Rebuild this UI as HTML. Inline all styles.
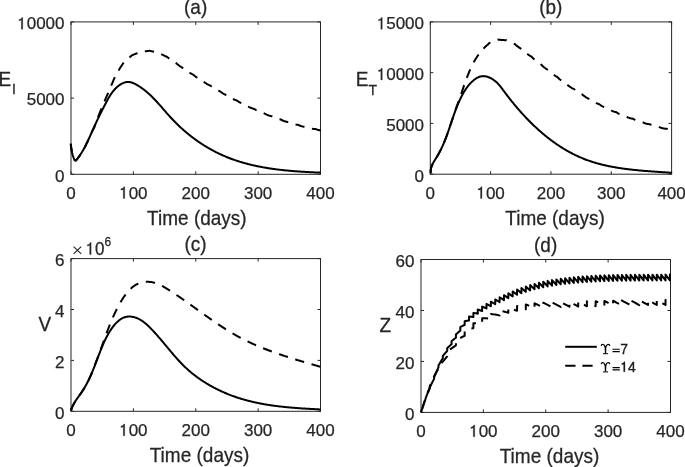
<!DOCTYPE html>
<html><head><meta charset="utf-8"><style>
html,body{margin:0;padding:0;background:#fff;}
svg{display:block;will-change:transform;}
text{font-family:"Liberation Sans",sans-serif;fill:#262626;}
.tk{font-size:17px;}
.lb{font-size:19px;}
.sb{font-size:14px;}
.sp{font-size:12px;}
.lg{font-size:14px;fill:#000;}
.ln{fill:none;stroke:#000;stroke-width:2.0;stroke-linejoin:round;}
</style></head><body>
<svg width="685" height="467" viewBox="0 0 685 467">
<rect width="685" height="467" fill="#fff"/>
<rect x="71" y="21.9" width="249.50" height="152.40" fill="none" stroke="#262626" stroke-width="1"/>
<path d="M71.00,174.3 V171.30 M71.00,21.9 V24.90" stroke="#262626" stroke-width="1"/>
<path d="M133.38,174.3 V171.30 M133.38,21.9 V24.90" stroke="#262626" stroke-width="1"/>
<path d="M195.75,174.3 V171.30 M195.75,21.9 V24.90" stroke="#262626" stroke-width="1"/>
<path d="M258.12,174.3 V171.30 M258.12,21.9 V24.90" stroke="#262626" stroke-width="1"/>
<path d="M320.50,174.3 V171.30 M320.50,21.9 V24.90" stroke="#262626" stroke-width="1"/>
<path d="M71,174.30 H74.00 M320.5,174.30 H317.50" stroke="#262626" stroke-width="1"/>
<path d="M71,98.10 H74.00 M320.5,98.10 H317.50" stroke="#262626" stroke-width="1"/>
<path d="M71,21.90 H74.00 M320.5,21.90 H317.50" stroke="#262626" stroke-width="1"/>
<rect x="430.3" y="21.9" width="241.30" height="152.30" fill="none" stroke="#262626" stroke-width="1"/>
<path d="M430.30,174.2 V171.20 M430.30,21.9 V24.90" stroke="#262626" stroke-width="1"/>
<path d="M490.62,174.2 V171.20 M490.62,21.9 V24.90" stroke="#262626" stroke-width="1"/>
<path d="M550.95,174.2 V171.20 M550.95,21.9 V24.90" stroke="#262626" stroke-width="1"/>
<path d="M611.28,174.2 V171.20 M611.28,21.9 V24.90" stroke="#262626" stroke-width="1"/>
<path d="M671.60,174.2 V171.20 M671.60,21.9 V24.90" stroke="#262626" stroke-width="1"/>
<path d="M430.3,174.20 H433.30 M671.6,174.20 H668.60" stroke="#262626" stroke-width="1"/>
<path d="M430.3,123.43 H433.30 M671.6,123.43 H668.60" stroke="#262626" stroke-width="1"/>
<path d="M430.3,72.67 H433.30 M671.6,72.67 H668.60" stroke="#262626" stroke-width="1"/>
<path d="M430.3,21.90 H433.30 M671.6,21.90 H668.60" stroke="#262626" stroke-width="1"/>
<rect x="71" y="258.6" width="249.50" height="152.70" fill="none" stroke="#262626" stroke-width="1"/>
<path d="M71.00,411.3 V408.30 M71.00,258.6 V261.60" stroke="#262626" stroke-width="1"/>
<path d="M133.38,411.3 V408.30 M133.38,258.6 V261.60" stroke="#262626" stroke-width="1"/>
<path d="M195.75,411.3 V408.30 M195.75,258.6 V261.60" stroke="#262626" stroke-width="1"/>
<path d="M258.12,411.3 V408.30 M258.12,258.6 V261.60" stroke="#262626" stroke-width="1"/>
<path d="M320.50,411.3 V408.30 M320.50,258.6 V261.60" stroke="#262626" stroke-width="1"/>
<path d="M71,411.30 H74.00 M320.5,411.30 H317.50" stroke="#262626" stroke-width="1"/>
<path d="M71,360.40 H74.00 M320.5,360.40 H317.50" stroke="#262626" stroke-width="1"/>
<path d="M71,309.50 H74.00 M320.5,309.50 H317.50" stroke="#262626" stroke-width="1"/>
<path d="M71,258.60 H74.00 M320.5,258.60 H317.50" stroke="#262626" stroke-width="1"/>
<rect x="421" y="259.5" width="249.50" height="152.90" fill="none" stroke="#262626" stroke-width="1"/>
<path d="M421.00,412.4 V409.40 M421.00,259.5 V262.50" stroke="#262626" stroke-width="1"/>
<path d="M483.38,412.4 V409.40 M483.38,259.5 V262.50" stroke="#262626" stroke-width="1"/>
<path d="M545.75,412.4 V409.40 M545.75,259.5 V262.50" stroke="#262626" stroke-width="1"/>
<path d="M608.12,412.4 V409.40 M608.12,259.5 V262.50" stroke="#262626" stroke-width="1"/>
<path d="M670.50,412.4 V409.40 M670.50,259.5 V262.50" stroke="#262626" stroke-width="1"/>
<path d="M421,412.40 H424.00 M670.5,412.40 H667.50" stroke="#262626" stroke-width="1"/>
<path d="M421,361.43 H424.00 M670.5,361.43 H667.50" stroke="#262626" stroke-width="1"/>
<path d="M421,310.47 H424.00 M670.5,310.47 H667.50" stroke="#262626" stroke-width="1"/>
<path d="M421,259.50 H424.00 M670.5,259.50 H667.50" stroke="#262626" stroke-width="1"/>
<text transform="translate(66.27,198.50) scale(1,1.0)" font-size="17" fill="#262626" stroke="#262626" stroke-width="0.25">0</text>
<path d="M490,0 L670,0 L670,1409 L545,1409 C525,1290 430,1175 205,1160 L205,1015 C345,1020 440,1050 490,1095 Z" fill="#262626" stroke="#262626" stroke-width="30.1" transform="translate(119.19,198.50) scale(0.00830,-0.00830)"/><text transform="translate(128.65,198.50) scale(1,1.0)" font-size="17" fill="#262626" stroke="#262626" stroke-width="0.25">00</text>
<text transform="translate(181.57,198.50) scale(1,1.0)" font-size="17" fill="#262626" stroke="#262626" stroke-width="0.25">200</text>
<text transform="translate(243.94,198.50) scale(1,1.0)" font-size="17" fill="#262626" stroke="#262626" stroke-width="0.25">300</text>
<text transform="translate(306.32,198.50) scale(1,1.0)" font-size="17" fill="#262626" stroke="#262626" stroke-width="0.25">400</text>
<text transform="translate(425.57,198.50) scale(1,1.0)" font-size="17" fill="#262626" stroke="#262626" stroke-width="0.25">0</text>
<path d="M490,0 L670,0 L670,1409 L545,1409 C525,1290 430,1175 205,1160 L205,1015 C345,1020 440,1050 490,1095 Z" fill="#262626" stroke="#262626" stroke-width="30.1" transform="translate(476.44,198.50) scale(0.00830,-0.00830)"/><text transform="translate(485.90,198.50) scale(1,1.0)" font-size="17" fill="#262626" stroke="#262626" stroke-width="0.25">00</text>
<text transform="translate(536.77,198.50) scale(1,1.0)" font-size="17" fill="#262626" stroke="#262626" stroke-width="0.25">200</text>
<text transform="translate(597.09,198.50) scale(1,1.0)" font-size="17" fill="#262626" stroke="#262626" stroke-width="0.25">300</text>
<text transform="translate(657.42,198.50) scale(1,1.0)" font-size="17" fill="#262626" stroke="#262626" stroke-width="0.25">400</text>
<text transform="translate(66.27,435.80) scale(1,1.0)" font-size="17" fill="#262626" stroke="#262626" stroke-width="0.25">0</text>
<path d="M490,0 L670,0 L670,1409 L545,1409 C525,1290 430,1175 205,1160 L205,1015 C345,1020 440,1050 490,1095 Z" fill="#262626" stroke="#262626" stroke-width="30.1" transform="translate(119.19,435.80) scale(0.00830,-0.00830)"/><text transform="translate(128.65,435.80) scale(1,1.0)" font-size="17" fill="#262626" stroke="#262626" stroke-width="0.25">00</text>
<text transform="translate(181.57,435.80) scale(1,1.0)" font-size="17" fill="#262626" stroke="#262626" stroke-width="0.25">200</text>
<text transform="translate(243.94,435.80) scale(1,1.0)" font-size="17" fill="#262626" stroke="#262626" stroke-width="0.25">300</text>
<text transform="translate(306.32,435.80) scale(1,1.0)" font-size="17" fill="#262626" stroke="#262626" stroke-width="0.25">400</text>
<text transform="translate(416.27,436.80) scale(1,1.0)" font-size="17" fill="#262626" stroke="#262626" stroke-width="0.25">0</text>
<path d="M490,0 L670,0 L670,1409 L545,1409 C525,1290 430,1175 205,1160 L205,1015 C345,1020 440,1050 490,1095 Z" fill="#262626" stroke="#262626" stroke-width="30.1" transform="translate(469.19,436.80) scale(0.00830,-0.00830)"/><text transform="translate(478.65,436.80) scale(1,1.0)" font-size="17" fill="#262626" stroke="#262626" stroke-width="0.25">00</text>
<text transform="translate(531.57,436.80) scale(1,1.0)" font-size="17" fill="#262626" stroke="#262626" stroke-width="0.25">200</text>
<text transform="translate(593.94,436.80) scale(1,1.0)" font-size="17" fill="#262626" stroke="#262626" stroke-width="0.25">300</text>
<text transform="translate(656.32,436.80) scale(1,1.0)" font-size="17" fill="#262626" stroke="#262626" stroke-width="0.25">400</text>
<text transform="translate(55.05,181.61) scale(1,1.0)" font-size="17" fill="#262626" stroke="#262626" stroke-width="0.25">0</text>
<text transform="translate(26.68,105.41) scale(1,1.0)" font-size="17" fill="#262626" stroke="#262626" stroke-width="0.25">5000</text>
<path d="M490,0 L670,0 L670,1409 L545,1409 C525,1290 430,1175 205,1160 L205,1015 C345,1020 440,1050 490,1095 Z" fill="#262626" stroke="#262626" stroke-width="30.1" transform="translate(17.23,29.21) scale(0.00830,-0.00830)"/><text transform="translate(26.68,29.21) scale(1,1.0)" font-size="17" fill="#262626" stroke="#262626" stroke-width="0.25">0000</text>
<text transform="translate(414.55,181.51) scale(1,1.0)" font-size="17" fill="#262626" stroke="#262626" stroke-width="0.25">0</text>
<text transform="translate(386.18,130.74) scale(1,1.0)" font-size="17" fill="#262626" stroke="#262626" stroke-width="0.25">5000</text>
<path d="M490,0 L670,0 L670,1409 L545,1409 C525,1290 430,1175 205,1160 L205,1015 C345,1020 440,1050 490,1095 Z" fill="#262626" stroke="#262626" stroke-width="30.1" transform="translate(376.73,79.98) scale(0.00830,-0.00830)"/><text transform="translate(386.18,79.98) scale(1,1.0)" font-size="17" fill="#262626" stroke="#262626" stroke-width="0.25">0000</text>
<path d="M490,0 L670,0 L670,1409 L545,1409 C525,1290 430,1175 205,1160 L205,1015 C345,1020 440,1050 490,1095 Z" fill="#262626" stroke="#262626" stroke-width="30.1" transform="translate(376.73,29.21) scale(0.00830,-0.00830)"/><text transform="translate(386.18,29.21) scale(1,1.0)" font-size="17" fill="#262626" stroke="#262626" stroke-width="0.25">5000</text>
<text transform="translate(55.05,418.61) scale(1,1.0)" font-size="17" fill="#262626" stroke="#262626" stroke-width="0.25">0</text>
<text transform="translate(55.05,367.71) scale(1,1.0)" font-size="17" fill="#262626" stroke="#262626" stroke-width="0.25">2</text>
<text transform="translate(55.05,316.81) scale(1,1.0)" font-size="17" fill="#262626" stroke="#262626" stroke-width="0.25">4</text>
<text transform="translate(55.05,265.91) scale(1,1.0)" font-size="17" fill="#262626" stroke="#262626" stroke-width="0.25">6</text>
<text transform="translate(405.05,419.71) scale(1,1.0)" font-size="17" fill="#262626" stroke="#262626" stroke-width="0.25">0</text>
<text transform="translate(395.59,368.74) scale(1,1.0)" font-size="17" fill="#262626" stroke="#262626" stroke-width="0.25">20</text>
<text transform="translate(395.59,317.78) scale(1,1.0)" font-size="17" fill="#262626" stroke="#262626" stroke-width="0.25">40</text>
<text transform="translate(395.59,266.81) scale(1,1.0)" font-size="17" fill="#262626" stroke="#262626" stroke-width="0.25">60</text>
<path d="M70.80,143.80 L70.84,144.45 L70.90,145.12 L70.98,145.81 L71.06,146.52 L71.16,147.24 L71.26,147.97 L71.37,148.69 L71.49,149.41 L71.62,150.12 L71.75,150.82 L71.87,151.49 L72.01,152.14 L72.14,152.78 L72.29,153.41 L72.44,154.05 L72.61,154.69 L72.80,155.35 L73.00,156.03 L73.23,156.75 L73.49,157.51 L73.78,158.30 L74.12,159.08 L74.53,159.77 L75.04,160.31 L75.58,160.55 L76.07,160.34 L76.51,159.85 L76.94,159.33 L77.36,158.80 L77.78,158.26 L78.19,157.72 L78.59,157.17 L78.99,156.62 L79.39,156.06 L79.78,155.49 L80.16,154.92 L80.54,154.35 L80.92,153.77 L81.29,153.19 L81.65,152.60 L82.02,152.01 L82.37,151.42 L82.72,150.82 L83.07,150.22 L83.42,149.61 L83.76,149.00 L84.09,148.39 L84.43,147.77 L84.76,147.16 L85.08,146.53 L85.41,145.91 L85.73,145.28 L86.04,144.65 L86.36,144.02 L86.67,143.39 L86.98,142.75 L87.29,142.11 L87.59,141.47 L87.89,140.83 L88.19,140.19 L88.49,139.55 L88.79,138.90 L89.08,138.26 L89.38,137.61 L89.67,136.97 L89.96,136.32 L90.25,135.67 L90.54,135.02 L90.83,134.37 L91.11,133.73 L91.40,133.08 L91.69,132.43 L91.97,131.78 L92.26,131.14 L92.54,130.49 L92.83,129.85 L93.12,129.20 L93.40,128.56 L93.69,127.92 L93.98,127.28 L94.26,126.65 L94.55,126.01 L94.84,125.38 L95.13,124.74 L95.42,124.11 L95.71,123.48 L96.01,122.85 L96.30,122.23 L96.59,121.60 L96.89,120.97 L97.18,120.35 L97.48,119.73 L97.78,119.11 L98.07,118.48 L98.37,117.86 L98.67,117.24 L98.97,116.63 L99.28,116.01 L99.58,115.39 L99.88,114.77 L100.19,114.16 L100.49,113.54 L100.80,112.92 L101.11,112.31 L101.42,111.69 L101.73,111.08 L102.04,110.46 L102.35,109.85 L102.66,109.23 L102.97,108.62 L103.29,108.00 L103.61,107.38 L103.92,106.77 L104.24,106.15 L104.56,105.53 L104.88,104.92 L105.20,104.30 L105.52,103.68 L105.85,103.06 L106.17,102.44 L106.50,101.82 L106.83,101.20 L107.16,100.58 L107.50,99.97 L107.84,99.35 L108.18,98.74 L108.53,98.12 L108.88,97.51 L109.24,96.91 L109.60,96.31 L109.97,95.71 L110.34,95.12 L110.73,94.53 L111.12,93.94 L111.52,93.37 L111.92,92.79 L112.34,92.23 L112.76,91.67 L113.20,91.12 L113.64,90.58 L114.10,90.04 L114.56,89.52 L115.04,89.00 L115.53,88.50 L116.03,88.00 L116.54,87.51 L117.07,87.04 L117.61,86.57 L118.16,86.12 L118.73,85.68 L119.32,85.25 L119.91,84.84 L120.52,84.44 L121.14,84.07 L121.77,83.72 L122.41,83.39 L123.05,83.09 L123.70,82.82 L124.36,82.58 L125.02,82.38 L125.69,82.22 L126.36,82.09 L127.03,82.00 L127.70,81.96 L128.36,81.96 L129.03,82.01 L129.70,82.09 L130.36,82.21 L131.02,82.37 L131.68,82.56 L132.34,82.77 L132.99,83.02 L133.64,83.29 L134.28,83.58 L134.92,83.89 L135.56,84.22 L136.19,84.56 L136.82,84.91 L137.44,85.27 L138.05,85.64 L138.66,86.01 L139.26,86.39 L139.85,86.78 L140.44,87.17 L141.03,87.56 L141.61,87.97 L142.18,88.37 L142.75,88.79 L143.31,89.21 L143.87,89.63 L144.42,90.06 L144.97,90.49 L145.51,90.93 L146.05,91.37 L146.59,91.82 L147.12,92.27 L147.65,92.73 L148.17,93.18 L148.69,93.65 L149.20,94.12 L149.71,94.59 L150.22,95.06 L150.73,95.54 L151.23,96.02 L151.72,96.51 L152.22,97.00 L152.71,97.49 L153.20,97.98 L153.69,98.48 L154.17,98.98 L154.65,99.48 L155.13,99.98 L155.61,100.49 L156.08,101.00 L156.56,101.51 L157.03,102.03 L157.50,102.54 L157.97,103.06 L158.43,103.58 L158.90,104.10 L159.36,104.62 L159.83,105.14 L160.29,105.66 L160.75,106.19 L161.21,106.71 L161.67,107.24 L162.13,107.77 L162.59,108.29 L163.05,108.82 L163.50,109.35 L163.96,109.88 L164.42,110.41 L164.88,110.93 L165.34,111.46 L165.80,111.99 L166.26,112.52 L166.72,113.05 L167.18,113.57 L167.65,114.10 L168.11,114.62 L168.58,115.14 L169.04,115.67 L169.51,116.19 L169.98,116.71 L170.45,117.23 L170.93,117.74 L171.40,118.26 L171.88,118.77 L172.36,119.28 L172.84,119.79 L173.33,120.30 L173.81,120.80 L174.30,121.31 L174.79,121.81 L175.28,122.31 L175.78,122.80 L176.28,123.30 L176.78,123.79 L177.28,124.28 L177.78,124.77 L178.29,125.26 L178.79,125.74 L179.30,126.22 L179.81,126.70 L180.33,127.18 L180.84,127.66 L181.36,128.13 L181.88,128.60 L182.40,129.07 L182.93,129.53 L183.45,130.00 L183.98,130.46 L184.51,130.92 L185.04,131.38 L185.58,131.83 L186.11,132.29 L186.65,132.74 L187.19,133.19 L187.73,133.63 L188.27,134.07 L188.82,134.52 L189.37,134.95 L189.91,135.39 L190.46,135.82 L191.02,136.26 L191.57,136.68 L192.13,137.11 L192.69,137.54 L193.25,137.96 L193.81,138.38 L194.37,138.79 L194.94,139.21 L195.50,139.62 L196.07,140.03 L196.64,140.43 L197.21,140.84 L197.79,141.24 L198.36,141.64 L198.94,142.03 L199.52,142.43 L200.10,142.82 L200.68,143.21 L201.27,143.59 L201.85,143.97 L202.44,144.35 L203.03,144.73 L203.62,145.11 L204.21,145.48 L204.80,145.85 L205.40,146.21 L206.00,146.58 L206.59,146.94 L207.19,147.30 L207.80,147.65 L208.40,148.01 L209.00,148.36 L209.61,148.70 L210.22,149.05 L210.83,149.39 L211.44,149.73 L212.05,150.06 L212.66,150.40 L213.28,150.73 L213.89,151.05 L214.51,151.38 L215.13,151.70 L215.75,152.02 L216.37,152.33 L217.00,152.64 L217.62,152.95 L218.25,153.26 L218.88,153.56 L219.50,153.86 L220.13,154.16 L220.77,154.45 L221.40,154.74 L222.03,155.03 L222.67,155.32 L223.31,155.60 L223.94,155.88 L224.58,156.15 L225.22,156.42 L225.87,156.69 L226.51,156.96 L227.15,157.22 L227.80,157.48 L228.44,157.74 L229.09,157.99 L229.74,158.24 L230.39,158.49 L231.04,158.74 L231.70,158.98 L232.35,159.22 L233.00,159.45 L233.66,159.68 L234.32,159.91 L234.97,160.14 L235.63,160.37 L236.29,160.59 L236.95,160.81 L237.62,161.02 L238.28,161.23 L238.94,161.44 L239.61,161.65 L240.27,161.86 L240.94,162.06 L241.61,162.26 L242.28,162.46 L242.95,162.65 L243.62,162.84 L244.29,163.03 L244.96,163.22 L245.63,163.40 L246.31,163.58 L246.98,163.76 L247.66,163.94 L248.33,164.11 L249.01,164.28 L249.69,164.45 L250.37,164.62 L251.05,164.78 L251.73,164.95 L252.41,165.11 L253.09,165.26 L253.77,165.42 L254.45,165.57 L255.14,165.72 L255.82,165.87 L256.50,166.01 L257.19,166.16 L257.88,166.30 L258.56,166.44 L259.25,166.58 L259.94,166.71 L260.62,166.84 L261.31,166.98 L262.00,167.10 L262.69,167.23 L263.38,167.36 L264.07,167.48 L264.76,167.60 L265.46,167.72 L266.15,167.84 L266.84,167.95 L267.53,168.06 L268.23,168.17 L268.92,168.28 L269.62,168.39 L270.31,168.50 L271.00,168.60 L271.70,168.70 L272.40,168.80 L273.09,168.90 L273.79,169.00 L274.48,169.09 L275.18,169.19 L275.88,169.28 L276.57,169.37 L277.27,169.46 L277.97,169.55 L278.67,169.63 L279.37,169.72 L280.06,169.80 L280.76,169.88 L281.46,169.96 L282.16,170.04 L282.86,170.11 L283.56,170.19 L284.26,170.26 L284.96,170.33 L285.65,170.40 L286.35,170.47 L287.05,170.54 L287.75,170.61 L288.45,170.67 L289.15,170.74 L289.85,170.80 L290.55,170.86 L291.25,170.92 L291.95,170.98 L292.65,171.04 L293.35,171.10 L294.05,171.16 L294.74,171.21 L295.44,171.26 L296.14,171.32 L296.84,171.37 L297.54,171.42 L298.24,171.47 L298.93,171.52 L299.63,171.56 L300.33,171.61 L301.03,171.66 L301.72,171.70 L302.42,171.75 L303.12,171.79 L303.81,171.83 L304.51,171.87 L305.21,171.91 L305.90,171.95 L306.60,171.99 L307.29,172.03 L307.99,172.07 L308.68,172.11 L309.37,172.14 L310.07,172.18 L310.76,172.21 L311.45,172.25 L312.14,172.28 L312.83,172.31 L313.53,172.35 L314.22,172.38 L314.91,172.41 L315.60,172.44 L316.29,172.47 L316.97,172.50 L317.66,172.53 L318.35,172.56 L319.04,172.59 L319.72,172.62 L320.41,172.65" class="ln"/>
<path d="M70.80,143.80 L70.84,144.45 L70.90,145.12 L70.98,145.81 L71.06,146.52 L71.16,147.24 L71.26,147.97 L71.37,148.69 L71.49,149.41 L71.62,150.12 L71.75,150.82 L71.87,151.49 L72.01,152.14 L72.14,152.78 L72.29,153.41 L72.44,154.05 L72.61,154.69 L72.80,155.35 L73.00,156.03 L73.23,156.75 L73.49,157.51 L73.78,158.30 L74.12,159.08 L74.53,159.77 L75.04,160.31 L75.58,160.55 L76.07,160.34 L76.51,159.85 L76.94,159.33 L77.36,158.80 L77.78,158.26 L78.19,157.72 L78.59,157.17 L78.99,156.62 L79.39,156.06 L79.78,155.49 L80.16,154.92 L80.54,154.35 L80.92,153.77 L81.29,153.19 L81.65,152.60 L82.02,152.01 L82.37,151.42 L82.72,150.82 L83.07,150.22 L83.42,149.61 L83.76,149.00 L84.09,148.39 L84.43,147.77 L84.76,147.16 L85.08,146.53 L85.41,145.91 L85.73,145.28 L86.04,144.65 L86.36,144.02 L86.67,143.39 L86.98,142.75 L87.29,142.11 L87.59,141.47 L87.89,140.83 L88.19,140.19 L88.49,139.55 L88.79,138.90 L89.08,138.26 L89.38,137.61 L89.67,136.97 L89.96,136.32 L90.25,135.67 L90.54,135.02 L90.83,134.37 L91.11,133.73 L91.40,133.08 L91.69,132.43 L91.97,131.78 L92.26,131.14 L92.54,130.49 L92.83,129.85 L94.22,127.68 L94.72,126.17 L95.22,124.70 L95.72,123.27 L96.22,121.87 L96.72,120.50 L97.20,119.22 L97.22,119.16 L97.72,117.84 L98.22,116.55 L98.72,115.28 L99.22,114.02 L99.72,112.78 L100.22,111.56 L100.72,110.36 L101.22,109.17 L101.72,107.99 L102.22,106.81 L102.72,105.64 L103.22,104.47 L103.72,103.29 L104.22,102.10 L104.72,100.91 L105.22,99.70 L105.72,98.48 L105.93,97.96 L106.22,97.31 L106.72,96.19 L107.22,95.06 L107.72,93.92 L108.22,92.78 L108.72,91.62 L109.22,90.45 L109.72,89.27 L110.22,88.08 L110.72,86.88 L111.22,85.67 L111.72,84.47 L112.22,83.26 L112.72,82.07 L113.22,80.87 L113.72,79.69 L114.22,78.52 L114.66,77.49 L114.72,77.38 L115.22,76.44 L115.72,75.51 L116.22,74.59 L116.72,73.69 L117.22,72.81 L117.72,71.93 L118.22,71.08 L118.72,70.23 L119.22,69.40 L119.72,68.59 L120.22,67.79 L120.72,67.00 L121.22,66.23 L121.72,65.47 L122.22,64.72 L122.72,63.98 L123.22,63.26 L123.39,63.01 L123.72,62.68 L124.22,62.18 L124.72,61.69 L125.22,61.21 L125.72,60.73 L126.22,60.27 L126.72,59.81 L127.22,59.36 L127.72,58.91 L128.22,58.48 L128.72,58.04 L129.22,57.62 L129.72,57.19 L130.22,56.77 L130.72,56.36 L131.22,55.94 L131.72,55.53 L132.13,55.20 L132.22,55.17 L132.72,54.97 L133.22,54.77 L133.72,54.57 L134.22,54.37 L134.72,54.17 L135.22,53.97 L135.72,53.76 L136.22,53.56 L136.72,53.36 L137.22,53.15 L137.72,52.94 L138.22,52.73 L138.72,52.52 L139.22,52.31 L139.72,52.09 L140.22,51.87 L140.72,51.64 L140.86,51.58 L141.22,51.57 L141.72,51.54 L142.22,51.52 L142.72,51.49 L143.22,51.45 L143.72,51.42 L144.22,51.38 L144.72,51.34 L145.22,51.29 L145.72,51.24 L146.22,51.18 L146.72,51.13 L147.22,51.07 L147.72,51.00 L148.22,50.94 L148.72,50.87 L149.22,50.79 L149.59,50.73 L149.72,50.77 L150.22,50.89 L150.72,51.01 L151.22,51.13 L151.72,51.25 L152.22,51.36 L152.72,51.47 L153.22,51.58 L153.72,51.68 L154.22,51.79 L154.72,51.89 L155.22,51.99 L155.72,52.08 L156.22,52.18 L156.72,52.27 L157.22,52.35 L157.72,52.44 L158.22,52.52 L158.32,52.53 L158.72,52.76 L159.22,53.04 L159.72,53.32 L160.22,53.59 L160.72,53.86 L161.22,54.13 L161.72,54.39 L162.22,54.65 L162.72,54.90 L163.22,55.15 L163.72,55.39 L164.22,55.63 L164.72,55.86 L165.22,56.09 L165.72,56.32 L166.22,56.53 L166.72,56.74 L167.06,56.88 L167.22,57.02 L167.72,57.42 L168.22,57.82 L168.72,58.21 L169.22,58.59 L169.72,58.97 L170.22,59.34 L170.72,59.70 L171.22,60.05 L171.72,60.39 L172.22,60.73 L172.72,61.05 L173.22,61.36 L173.72,61.67 L174.22,61.96 L174.72,62.24 L175.22,62.51 L175.72,62.77 L175.79,62.80 L176.22,63.19 L176.72,63.63 L177.22,64.05 L177.72,64.47 L178.22,64.87 L178.72,65.26 L179.22,65.63 L179.72,66.00 L180.22,66.35 L180.72,66.69 L181.22,67.02 L181.72,67.33 L182.22,67.63 L182.72,67.92 L183.22,68.20 L183.72,68.46 L184.22,68.72 L184.52,68.86 L184.72,69.04 L185.22,69.47 L185.72,69.89 L186.22,70.30 L186.72,70.70 L187.22,71.08 L187.72,71.45 L188.22,71.81 L188.72,72.16 L189.22,72.49 L189.72,72.81 L190.22,73.12 L190.72,73.42 L191.22,73.70 L191.72,73.97 L192.22,74.23 L192.72,74.48 L193.22,74.71 L193.25,74.73 L193.72,75.13 L194.22,75.54 L194.72,75.94 L195.22,76.33 L195.72,76.71 L196.22,77.08 L196.72,77.43 L197.22,77.77 L197.72,78.10 L198.22,78.41 L198.72,78.71 L199.22,79.00 L199.72,79.28 L200.22,79.55 L200.72,79.80 L201.22,80.04 L201.72,80.27 L201.99,80.38 L202.22,80.58 L202.72,80.99 L203.22,81.38 L203.72,81.76 L204.22,82.13 L204.72,82.49 L205.22,82.84 L205.72,83.17 L206.22,83.49 L206.72,83.80 L207.22,84.09 L207.72,84.38 L208.22,84.64 L208.72,84.90 L209.22,85.15 L209.72,85.38 L210.22,85.60 L210.72,85.80 L210.72,85.81 L211.22,86.21 L211.72,86.59 L212.22,86.97 L212.72,87.33 L213.22,87.68 L213.72,88.02 L214.22,88.34 L214.72,88.65 L215.22,88.95 L215.72,89.24 L216.22,89.51 L216.72,89.78 L217.22,90.02 L217.72,90.26 L218.22,90.48 L218.72,90.70 L219.22,90.89 L219.45,90.98 L219.72,91.19 L220.22,91.57 L220.72,91.94 L221.22,92.29 L221.72,92.63 L222.22,92.96 L222.72,93.27 L223.22,93.58 L223.72,93.87 L224.22,94.15 L224.72,94.41 L225.22,94.66 L225.72,94.90 L226.22,95.13 L226.72,95.34 L227.22,95.55 L227.72,95.73 L228.19,95.90 L228.22,95.93 L228.72,96.29 L229.22,96.65 L229.72,97.00 L230.22,97.33 L230.72,97.65 L231.22,97.95 L231.72,98.25 L232.22,98.53 L232.72,98.80 L233.22,99.05 L233.72,99.29 L234.22,99.52 L234.72,99.74 L235.22,99.94 L235.72,100.14 L236.22,100.32 L236.72,100.48 L236.92,100.54 L237.22,100.76 L237.72,101.11 L238.22,101.44 L238.72,101.76 L239.22,102.07 L239.72,102.37 L240.22,102.65 L240.72,102.92 L241.22,103.18 L241.72,103.43 L242.22,103.66 L242.72,103.88 L243.22,104.09 L243.72,104.28 L244.22,104.46 L244.72,104.63 L245.22,104.79 L245.65,104.91 L245.72,104.96 L246.22,105.29 L246.72,105.62 L247.22,105.93 L247.72,106.23 L248.22,106.51 L248.72,106.79 L249.22,107.05 L249.72,107.29 L250.22,107.53 L250.72,107.75 L251.22,107.96 L251.72,108.16 L252.22,108.34 L252.72,108.51 L253.22,108.67 L253.72,108.81 L254.22,108.94 L254.38,108.98 L254.72,109.20 L255.22,109.52 L255.72,109.82 L256.22,110.10 L256.72,110.38 L257.22,110.64 L257.72,110.89 L258.22,111.13 L258.72,111.35 L259.22,111.56 L259.72,111.76 L260.22,111.94 L260.72,112.12 L261.22,112.28 L261.72,112.42 L262.22,112.56 L262.72,112.68 L263.12,112.76 L263.22,112.83 L263.72,113.13 L264.22,113.42 L264.72,113.70 L265.22,113.96 L265.72,114.21 L266.22,114.45 L266.72,114.67 L267.22,114.89 L267.72,115.09 L268.22,115.27 L268.72,115.45 L269.22,115.61 L269.72,115.76 L270.22,115.89 L270.72,116.01 L271.22,116.12 L271.72,116.22 L271.85,116.24 L272.22,116.46 L272.72,116.74 L273.22,117.00 L273.72,117.25 L274.22,117.49 L274.72,117.72 L275.22,117.93 L275.72,118.13 L276.22,118.32 L276.72,118.50 L277.22,118.66 L277.72,118.81 L278.22,118.94 L278.72,119.07 L279.22,119.18 L279.72,119.28 L280.22,119.36 L280.58,119.42 L280.72,119.49 L281.22,119.76 L281.72,120.01 L282.22,120.25 L282.72,120.48 L283.22,120.70 L283.72,120.90 L284.22,121.09 L284.72,121.26 L285.22,121.43 L285.72,121.58 L286.22,121.72 L286.72,121.84 L287.22,121.95 L287.72,122.05 L288.22,122.14 L288.72,122.21 L289.22,122.27 L289.31,122.28 L289.72,122.49 L290.22,122.73 L290.72,122.96 L291.22,123.18 L291.72,123.38 L292.22,123.57 L292.72,123.75 L293.22,123.91 L293.72,124.06 L294.22,124.20 L294.72,124.33 L295.22,124.44 L295.72,124.54 L296.22,124.63 L296.72,124.70 L297.22,124.77 L297.72,124.82 L298.05,124.84 L298.22,124.92 L298.72,125.15 L299.22,125.37 L299.72,125.58 L300.22,125.77 L300.72,125.95 L301.22,126.11 L301.72,126.26 L302.22,126.40 L302.72,126.53 L303.22,126.64 L303.72,126.75 L304.22,126.84 L304.72,126.91 L305.22,126.97 L305.72,127.02 L306.22,127.06 L306.72,127.09 L306.78,127.09 L307.22,127.28 L307.72,127.49 L308.22,127.68 L308.72,127.86 L309.22,128.03 L309.72,128.18 L310.22,128.32 L310.72,128.45 L311.22,128.56 L311.72,128.67 L312.22,128.76 L312.72,128.83 L313.22,128.90 L313.72,128.95 L314.22,128.99 L314.72,129.01 L315.22,129.03 L315.51,129.03 L315.72,129.11 L316.22,129.31 L316.72,129.49 L317.22,129.66 L317.72,129.81 L318.22,129.95 L318.72,130.08 L319.22,130.20 L319.72,130.30 L320.22,130.40 L320.72,130.47 L320.81,130.49" class="ln" stroke-dasharray="9.3 7.7" stroke-dashoffset="0.8"/>
<path d="M430.83,173.32 L430.75,172.55 L430.70,171.79 L430.70,171.05 L430.73,170.33 L430.80,169.62 L430.90,168.93 L431.04,168.24 L431.21,167.57 L431.40,166.91 L431.62,166.27 L431.86,165.63 L432.13,165.00 L432.41,164.38 L432.72,163.76 L433.04,163.15 L433.37,162.55 L433.71,161.95 L434.07,161.35 L434.43,160.75 L434.79,160.16 L435.16,159.57 L435.54,158.98 L435.91,158.39 L436.28,157.79 L436.64,157.19 L437.00,156.59 L437.36,155.99 L437.71,155.39 L438.06,154.78 L438.40,154.17 L438.74,153.56 L439.08,152.95 L439.41,152.33 L439.74,151.71 L440.06,151.09 L440.38,150.47 L440.69,149.85 L441.01,149.22 L441.31,148.60 L441.62,147.97 L441.92,147.34 L442.21,146.71 L442.50,146.07 L442.79,145.44 L443.07,144.80 L443.35,144.17 L443.63,143.53 L443.90,142.89 L444.17,142.25 L444.43,141.61 L444.70,140.96 L444.96,140.32 L445.21,139.68 L445.47,139.03 L445.72,138.38 L445.97,137.73 L446.21,137.08 L446.45,136.43 L446.70,135.78 L446.93,135.13 L447.17,134.48 L447.41,133.82 L447.64,133.17 L447.87,132.52 L448.10,131.86 L448.33,131.20 L448.56,130.55 L448.78,129.89 L449.01,129.23 L449.23,128.57 L449.46,127.92 L449.68,127.26 L449.90,126.60 L450.12,125.94 L450.34,125.28 L450.56,124.62 L450.78,123.96 L451.01,123.30 L451.23,122.64 L451.45,121.98 L451.67,121.31 L451.89,120.65 L452.11,119.99 L452.34,119.33 L452.56,118.67 L452.78,118.01 L453.01,117.35 L453.24,116.69 L453.47,116.03 L453.70,115.37 L453.93,114.71 L454.16,114.05 L454.39,113.39 L454.63,112.73 L454.87,112.07 L455.11,111.42 L455.35,110.76 L455.60,110.10 L455.84,109.45 L456.09,108.79 L456.35,108.13 L456.60,107.48 L456.86,106.83 L457.12,106.17 L457.39,105.52 L457.65,104.87 L457.93,104.22 L458.20,103.57 L458.48,102.92 L458.76,102.28 L459.05,101.63 L459.34,100.98 L459.63,100.34 L459.93,99.70 L460.23,99.05 L460.54,98.41 L460.85,97.77 L461.17,97.14 L461.49,96.50 L461.81,95.87 L462.15,95.23 L462.48,94.60 L462.82,93.98 L463.17,93.36 L463.53,92.74 L463.89,92.12 L464.25,91.51 L464.62,90.91 L465.00,90.31 L465.39,89.71 L465.78,89.12 L466.18,88.54 L466.59,87.96 L467.00,87.39 L467.42,86.82 L467.85,86.26 L468.29,85.71 L468.73,85.17 L469.18,84.64 L469.64,84.11 L470.11,83.59 L470.59,83.08 L471.08,82.59 L471.57,82.10 L472.08,81.62 L472.59,81.15 L473.11,80.69 L473.65,80.24 L474.19,79.81 L474.74,79.39 L475.30,78.98 L475.87,78.60 L476.44,78.24 L477.03,77.90 L477.62,77.58 L478.23,77.29 L478.84,77.02 L479.45,76.79 L480.08,76.59 L480.71,76.42 L481.35,76.29 L481.99,76.19 L482.65,76.14 L483.31,76.12 L483.97,76.14 L484.64,76.20 L485.31,76.29 L485.98,76.42 L486.66,76.58 L487.33,76.77 L488.00,76.99 L488.67,77.24 L489.33,77.51 L489.99,77.81 L490.65,78.13 L491.29,78.48 L491.93,78.84 L492.56,79.23 L493.17,79.63 L493.78,80.05 L494.37,80.48 L494.95,80.93 L495.51,81.39 L496.05,81.86 L496.58,82.34 L497.10,82.83 L497.60,83.32 L498.08,83.83 L498.56,84.34 L499.02,84.86 L499.48,85.38 L499.92,85.91 L500.36,86.45 L500.79,86.99 L501.21,87.53 L501.63,88.08 L502.05,88.63 L502.46,89.18 L502.87,89.74 L503.28,90.29 L503.69,90.85 L504.10,91.40 L504.51,91.95 L504.92,92.51 L505.34,93.06 L505.75,93.62 L506.17,94.17 L506.59,94.72 L507.01,95.27 L507.43,95.82 L507.86,96.38 L508.28,96.93 L508.71,97.47 L509.14,98.02 L509.57,98.57 L510.00,99.12 L510.43,99.67 L510.86,100.21 L511.30,100.76 L511.74,101.30 L512.17,101.85 L512.61,102.39 L513.06,102.93 L513.50,103.47 L513.94,104.01 L514.39,104.55 L514.84,105.09 L515.29,105.63 L515.74,106.17 L516.19,106.70 L516.64,107.24 L517.10,107.77 L517.55,108.31 L518.01,108.84 L518.47,109.37 L518.93,109.90 L519.39,110.43 L519.86,110.95 L520.32,111.48 L520.79,112.01 L521.26,112.53 L521.73,113.05 L522.20,113.57 L522.67,114.09 L523.15,114.61 L523.63,115.13 L524.10,115.65 L524.58,116.16 L525.06,116.68 L525.55,117.19 L526.03,117.70 L526.52,118.21 L527.00,118.72 L527.49,119.23 L527.98,119.73 L528.47,120.23 L528.96,120.74 L529.46,121.24 L529.96,121.74 L530.45,122.23 L530.95,122.73 L531.45,123.22 L531.95,123.72 L532.46,124.21 L532.96,124.70 L533.47,125.18 L533.98,125.67 L534.49,126.15 L535.00,126.64 L535.51,127.12 L536.03,127.60 L536.54,128.07 L537.06,128.55 L537.58,129.02 L538.10,129.49 L538.62,129.96 L539.15,130.43 L539.67,130.89 L540.20,131.36 L540.73,131.82 L541.26,132.28 L541.79,132.74 L542.32,133.19 L542.85,133.64 L543.39,134.10 L543.93,134.54 L544.47,134.99 L545.01,135.44 L545.55,135.88 L546.09,136.32 L546.64,136.76 L547.19,137.19 L547.73,137.63 L548.28,138.06 L548.84,138.49 L549.39,138.91 L549.94,139.34 L550.50,139.76 L551.06,140.18 L551.62,140.60 L552.18,141.01 L552.74,141.42 L553.30,141.83 L553.87,142.24 L554.44,142.64 L555.00,143.05 L555.57,143.45 L556.15,143.84 L556.72,144.24 L557.29,144.63 L557.87,145.02 L558.45,145.40 L559.03,145.79 L559.61,146.17 L560.19,146.55 L560.78,146.92 L561.36,147.30 L561.95,147.67 L562.54,148.03 L563.13,148.40 L563.72,148.76 L564.31,149.12 L564.91,149.47 L565.51,149.83 L566.10,150.18 L566.70,150.52 L567.30,150.87 L567.91,151.21 L568.51,151.55 L569.12,151.88 L569.73,152.21 L570.34,152.54 L570.95,152.87 L571.56,153.19 L572.17,153.51 L572.79,153.83 L573.41,154.14 L574.02,154.45 L574.65,154.76 L575.27,155.06 L575.89,155.36 L576.52,155.66 L577.14,155.95 L577.77,156.24 L578.40,156.53 L579.03,156.81 L579.67,157.09 L580.30,157.37 L580.94,157.64 L581.57,157.91 L582.21,158.18 L582.85,158.44 L583.50,158.70 L584.14,158.96 L584.79,159.21 L585.43,159.46 L586.08,159.70 L586.73,159.95 L587.39,160.18 L588.04,160.42 L588.69,160.65 L589.35,160.88 L590.01,161.10 L590.67,161.32 L591.33,161.54 L591.99,161.76 L592.65,161.97 L593.32,162.17 L593.98,162.38 L594.65,162.58 L595.32,162.78 L595.99,162.98 L596.66,163.17 L597.33,163.36 L598.01,163.54 L598.68,163.73 L599.36,163.91 L600.03,164.09 L600.71,164.26 L601.39,164.43 L602.07,164.60 L602.75,164.77 L603.43,164.93 L604.12,165.09 L604.80,165.25 L605.48,165.41 L606.17,165.56 L606.86,165.71 L607.54,165.86 L608.23,166.01 L608.92,166.15 L609.61,166.29 L610.30,166.43 L610.99,166.56 L611.68,166.70 L612.38,166.83 L613.07,166.96 L613.76,167.08 L614.46,167.21 L615.15,167.33 L615.85,167.45 L616.55,167.57 L617.24,167.68 L617.94,167.80 L618.64,167.91 L619.34,168.02 L620.03,168.12 L620.73,168.23 L621.43,168.33 L622.13,168.44 L622.83,168.53 L623.53,168.63 L624.24,168.73 L624.94,168.82 L625.64,168.92 L626.34,169.01 L627.04,169.10 L627.74,169.18 L628.45,169.27 L629.15,169.36 L629.85,169.44 L630.55,169.52 L631.26,169.60 L631.96,169.68 L632.66,169.76 L633.37,169.83 L634.07,169.91 L634.77,169.98 L635.47,170.05 L636.18,170.12 L636.88,170.19 L637.58,170.26 L638.28,170.33 L638.99,170.39 L639.69,170.46 L640.39,170.52 L641.09,170.58 L641.79,170.64 L642.49,170.70 L643.19,170.76 L643.89,170.82 L644.59,170.88 L645.29,170.94 L645.99,170.99 L646.69,171.05 L647.39,171.10 L648.09,171.16 L648.79,171.21 L649.48,171.26 L650.18,171.31 L650.87,171.37 L651.57,171.42 L652.26,171.47 L652.96,171.52 L653.65,171.56 L654.35,171.61 L655.04,171.66 L655.73,171.71 L656.42,171.76 L657.11,171.80 L657.80,171.85 L658.49,171.90 L659.17,171.94 L659.86,171.99 L660.55,172.04 L661.23,172.08 L661.91,172.13 L662.60,172.17 L663.28,172.22 L663.96,172.27 L664.64,172.31 L665.32,172.36 L666.00,172.40 L666.68,172.45 L667.35,172.50 L668.03,172.54 L668.70,172.59 L669.37,172.63 L670.04,172.68 L670.71,172.73 L671.38,172.78" class="ln"/>
<path d="M430.83,173.32 L430.75,172.55 L430.70,171.79 L430.70,171.05 L430.73,170.33 L430.80,169.62 L430.90,168.93 L431.04,168.24 L431.21,167.57 L431.40,166.91 L431.62,166.27 L431.86,165.63 L432.13,165.00 L432.41,164.38 L432.72,163.76 L433.04,163.15 L433.37,162.55 L433.71,161.95 L434.07,161.35 L434.43,160.75 L434.79,160.16 L435.16,159.57 L435.54,158.98 L435.91,158.39 L436.28,157.79 L436.64,157.19 L437.00,156.59 L437.36,155.99 L437.71,155.39 L438.06,154.78 L438.40,154.17 L438.74,153.56 L439.08,152.95 L439.41,152.33 L439.74,151.71 L440.06,151.09 L440.38,150.47 L440.69,149.85 L441.01,149.22 L441.31,148.60 L441.62,147.97 L441.92,147.34 L442.21,146.71 L442.50,146.07 L442.79,145.44 L443.07,144.80 L443.35,144.17 L443.63,143.53 L443.90,142.89 L444.17,142.25 L444.43,141.61 L444.70,140.96 L444.96,140.32 L445.21,139.68 L445.47,139.03 L445.72,138.38 L445.97,137.73 L446.21,137.08 L446.45,136.43 L446.70,135.78 L446.93,135.13 L447.17,134.48 L447.41,133.82 L447.64,133.17 L447.87,132.52 L448.10,131.86 L448.33,131.20 L448.56,130.55 L448.78,129.89 L449.01,129.23 L449.23,128.57 L449.46,127.92 L449.68,127.26 L449.90,126.60 L450.12,125.94 L450.34,125.28 L450.56,124.62 L450.78,123.96 L451.01,123.30 L451.23,122.64 L451.45,121.98 L451.67,121.31 L451.89,120.65 L452.08,120.22 L452.58,118.63 L453.08,117.09 L453.58,115.57 L454.08,114.08 L454.58,112.62 L455.08,111.17 L455.58,109.74 L455.64,109.59 L456.08,108.32 L456.58,106.91 L457.08,105.51 L457.58,104.11 L458.08,102.72 L458.58,101.32 L459.08,99.93 L459.58,98.52 L460.08,97.11 L460.58,95.70 L461.08,94.28 L461.58,92.83 L462.08,91.36 L462.58,89.88 L463.08,88.38 L463.58,86.86 L464.08,85.34 L464.08,85.34 L464.58,83.93 L465.08,82.53 L465.58,81.16 L466.08,79.81 L466.58,78.48 L467.08,77.18 L467.58,75.89 L468.08,74.63 L468.58,73.38 L469.08,72.16 L469.58,70.94 L470.08,69.75 L470.58,68.56 L471.08,67.39 L471.58,66.23 L472.08,65.09 L472.53,64.09 L472.58,63.99 L473.08,63.14 L473.58,62.31 L474.08,61.48 L474.58,60.66 L475.08,59.86 L475.58,59.06 L476.08,58.28 L476.58,57.50 L477.08,56.73 L477.58,55.97 L478.08,55.21 L478.58,54.45 L479.08,53.70 L479.58,52.96 L480.08,52.22 L480.58,51.48 L480.97,50.90 L481.08,50.80 L481.58,50.32 L482.08,49.85 L482.58,49.38 L483.08,48.90 L483.58,48.43 L484.08,47.96 L484.58,47.50 L485.08,47.03 L485.58,46.56 L486.08,46.10 L486.58,45.63 L487.08,45.17 L487.58,44.71 L488.08,44.24 L488.58,43.78 L489.08,43.32 L489.42,43.01 L489.58,42.94 L490.08,42.74 L490.58,42.54 L491.08,42.34 L491.58,42.15 L492.08,41.95 L492.58,41.75 L493.08,41.55 L493.58,41.35 L494.08,41.15 L494.58,40.96 L495.08,40.76 L495.58,40.55 L496.08,40.35 L496.58,40.14 L497.08,39.94 L497.58,39.73 L497.86,39.61 L498.08,39.64 L498.58,39.69 L499.08,39.73 L499.58,39.78 L500.08,39.82 L500.58,39.87 L501.08,39.91 L501.58,39.94 L502.08,39.98 L502.58,40.02 L503.08,40.05 L503.58,40.08 L504.08,40.11 L504.58,40.13 L505.08,40.16 L505.58,40.18 L506.08,40.19 L506.31,40.20 L506.58,40.35 L507.08,40.62 L507.58,40.88 L508.08,41.14 L508.58,41.40 L509.08,41.65 L509.58,41.90 L510.08,42.14 L510.58,42.37 L511.08,42.60 L511.58,42.82 L512.08,43.04 L512.58,43.25 L513.08,43.45 L513.58,43.65 L514.08,43.84 L514.58,44.02 L514.75,44.08 L515.08,44.36 L515.58,44.79 L516.08,45.21 L516.58,45.61 L517.08,46.01 L517.58,46.40 L518.08,46.78 L518.58,47.15 L519.08,47.51 L519.58,47.86 L520.08,48.20 L520.58,48.53 L521.08,48.85 L521.58,49.15 L522.08,49.44 L522.58,49.73 L523.08,49.99 L523.20,50.06 L523.58,50.45 L524.08,50.95 L524.58,51.44 L525.08,51.92 L525.58,52.38 L526.08,52.83 L526.58,53.26 L527.08,53.68 L527.58,54.08 L528.08,54.47 L528.58,54.84 L529.08,55.19 L529.58,55.54 L530.08,55.86 L530.58,56.17 L531.08,56.47 L531.58,56.75 L531.65,56.78 L532.08,57.24 L532.58,57.75 L533.08,58.25 L533.58,58.72 L534.08,59.19 L534.58,59.64 L535.08,60.07 L535.58,60.49 L536.08,60.89 L536.58,61.27 L537.08,61.64 L537.58,62.00 L538.08,62.34 L538.58,62.66 L539.08,62.97 L539.58,63.26 L540.08,63.54 L540.09,63.54 L540.58,64.06 L541.08,64.56 L541.58,65.05 L542.08,65.53 L542.58,65.99 L543.08,66.43 L543.58,66.86 L544.08,67.27 L544.58,67.66 L545.08,68.04 L545.58,68.41 L546.08,68.76 L546.58,69.09 L547.08,69.40 L547.58,69.70 L548.08,69.99 L548.54,70.23 L548.58,70.28 L549.08,70.79 L549.58,71.29 L550.08,71.77 L550.58,72.23 L551.08,72.68 L551.58,73.11 L552.08,73.53 L552.58,73.93 L553.08,74.31 L553.58,74.68 L554.08,75.03 L554.58,75.37 L555.08,75.69 L555.58,75.99 L556.08,76.28 L556.58,76.55 L556.98,76.75 L557.08,76.85 L557.58,77.35 L558.08,77.83 L558.58,78.30 L559.08,78.75 L559.58,79.18 L560.08,79.59 L560.58,79.99 L561.08,80.38 L561.58,80.74 L562.08,81.09 L562.58,81.43 L563.08,81.74 L563.58,82.04 L564.08,82.33 L564.58,82.60 L565.08,82.85 L565.43,83.01 L565.58,83.16 L566.08,83.64 L566.58,84.10 L567.08,84.55 L567.58,84.97 L568.08,85.39 L568.58,85.78 L569.08,86.16 L569.58,86.52 L570.08,86.86 L570.58,87.19 L571.08,87.50 L571.58,87.80 L572.08,88.08 L572.58,88.34 L573.08,88.58 L573.58,88.81 L573.87,88.93 L574.08,89.13 L574.58,89.58 L575.08,90.02 L575.58,90.44 L576.08,90.84 L576.58,91.23 L577.08,91.60 L577.58,91.95 L578.08,92.29 L578.58,92.61 L579.08,92.91 L579.58,93.19 L580.08,93.46 L580.58,93.71 L581.08,93.95 L581.58,94.16 L582.08,94.36 L582.32,94.45 L582.58,94.69 L583.08,95.11 L583.58,95.52 L584.08,95.92 L584.58,96.29 L585.08,96.65 L585.58,96.99 L586.08,97.32 L586.58,97.62 L587.08,97.92 L587.58,98.19 L588.08,98.45 L588.58,98.69 L589.08,98.91 L589.58,99.11 L590.08,99.30 L590.58,99.47 L590.76,99.53 L591.08,99.79 L591.58,100.19 L592.08,100.57 L592.58,100.94 L593.08,101.28 L593.58,101.61 L594.08,101.93 L594.58,102.22 L595.08,102.50 L595.58,102.76 L596.08,103.01 L596.58,103.23 L597.08,103.44 L597.58,103.64 L598.08,103.81 L598.58,103.97 L599.08,104.11 L599.21,104.15 L599.58,104.43 L600.08,104.80 L600.58,105.15 L601.08,105.49 L601.58,105.81 L602.08,106.11 L602.58,106.39 L603.08,106.66 L603.58,106.91 L604.08,107.14 L604.58,107.36 L605.08,107.56 L605.58,107.74 L606.08,107.91 L606.58,108.06 L607.08,108.19 L607.58,108.31 L607.66,108.32 L608.08,108.63 L608.58,108.97 L609.08,109.30 L609.58,109.61 L610.08,109.90 L610.58,110.18 L611.08,110.44 L611.58,110.68 L612.08,110.91 L612.58,111.12 L613.08,111.31 L613.58,111.48 L614.08,111.64 L614.58,111.79 L615.08,111.91 L615.58,112.02 L616.08,112.12 L616.10,112.12 L616.58,112.44 L617.08,112.76 L617.58,113.07 L618.08,113.35 L618.58,113.62 L619.08,113.88 L619.58,114.12 L620.08,114.34 L620.58,114.54 L621.08,114.73 L621.58,114.90 L622.08,115.06 L622.58,115.19 L623.08,115.31 L623.58,115.42 L624.08,115.51 L624.55,115.58 L624.58,115.60 L625.08,115.92 L625.58,116.22 L626.08,116.50 L626.58,116.77 L627.08,117.02 L627.58,117.25 L628.08,117.47 L628.58,117.67 L629.08,117.85 L629.58,118.02 L630.08,118.17 L630.58,118.31 L631.08,118.43 L631.58,118.53 L632.08,118.61 L632.58,118.68 L632.99,118.73 L633.08,118.78 L633.58,119.08 L634.08,119.36 L634.58,119.63 L635.08,119.88 L635.58,120.11 L636.08,120.32 L636.58,120.52 L637.08,120.70 L637.58,120.87 L638.08,121.02 L638.58,121.15 L639.08,121.27 L639.58,121.37 L640.08,121.46 L640.58,121.52 L641.08,121.57 L641.44,121.60 L641.58,121.69 L642.08,121.97 L642.58,122.23 L643.08,122.47 L643.58,122.71 L644.08,122.92 L644.58,123.12 L645.08,123.30 L645.58,123.46 L646.08,123.61 L646.58,123.75 L647.08,123.86 L647.58,123.96 L648.08,124.04 L648.58,124.11 L649.08,124.16 L649.58,124.20 L649.88,124.21 L650.08,124.32 L650.58,124.58 L651.08,124.83 L651.58,125.06 L652.08,125.27 L652.58,125.47 L653.08,125.65 L653.58,125.82 L654.08,125.96 L654.58,126.10 L655.08,126.21 L655.58,126.31 L656.08,126.40 L656.58,126.46 L657.08,126.51 L657.58,126.55 L658.08,126.57 L658.33,126.57 L658.58,126.70 L659.08,126.95 L659.58,127.18 L660.08,127.39 L660.58,127.59 L661.08,127.77 L661.58,127.93 L662.08,128.08 L662.58,128.21 L663.08,128.33 L663.58,128.43 L664.08,128.51 L664.58,128.58 L665.08,128.63 L665.58,128.67 L666.08,128.69 L666.58,128.69 L666.77,128.68 L667.08,128.83 L667.58,129.07 L668.08,129.28 L668.58,129.48 L669.08,129.66 L669.58,129.82 L670.08,129.97 L670.58,130.10 L671.08,130.22 L671.42,130.29" class="ln" stroke-dasharray="9.3 7.7" stroke-dashoffset="16.5"/>
<path d="M70.95,410.94 L71.13,410.25 L71.32,409.58 L71.53,408.92 L71.76,408.26 L72.00,407.61 L72.26,406.97 L72.53,406.34 L72.82,405.71 L73.13,405.09 L73.44,404.48 L73.77,403.87 L74.11,403.26 L74.46,402.66 L74.82,402.07 L75.19,401.48 L75.56,400.89 L75.95,400.31 L76.33,399.73 L76.73,399.15 L77.13,398.58 L77.53,398.00 L77.94,397.43 L78.35,396.86 L78.76,396.29 L79.17,395.72 L79.58,395.15 L79.99,394.58 L80.39,394.00 L80.80,393.43 L81.20,392.85 L81.60,392.28 L81.99,391.70 L82.38,391.11 L82.76,390.53 L83.14,389.94 L83.51,389.35 L83.87,388.75 L84.24,388.16 L84.59,387.56 L84.94,386.96 L85.29,386.36 L85.63,385.75 L85.97,385.14 L86.31,384.53 L86.64,383.92 L86.96,383.31 L87.28,382.69 L87.60,382.07 L87.92,381.45 L88.23,380.83 L88.53,380.20 L88.84,379.58 L89.14,378.95 L89.44,378.32 L89.73,377.69 L90.02,377.06 L90.31,376.42 L90.59,375.79 L90.88,375.15 L91.16,374.51 L91.43,373.87 L91.71,373.23 L91.98,372.59 L92.25,371.94 L92.52,371.30 L92.79,370.65 L93.05,370.00 L93.31,369.36 L93.58,368.71 L93.83,368.06 L94.09,367.41 L94.35,366.76 L94.61,366.10 L94.86,365.45 L95.11,364.80 L95.37,364.14 L95.62,363.49 L95.87,362.83 L96.12,362.18 L96.37,361.52 L96.62,360.86 L96.87,360.21 L97.12,359.55 L97.37,358.89 L97.61,358.23 L97.86,357.58 L98.11,356.92 L98.36,356.26 L98.61,355.60 L98.86,354.95 L99.11,354.29 L99.37,353.63 L99.62,352.98 L99.87,352.32 L100.13,351.66 L100.38,351.01 L100.64,350.35 L100.90,349.70 L101.16,349.04 L101.42,348.39 L101.69,347.74 L101.95,347.08 L102.22,346.43 L102.50,345.78 L102.77,345.13 L103.05,344.49 L103.33,343.84 L103.62,343.19 L103.90,342.55 L104.20,341.90 L104.49,341.26 L104.79,340.62 L105.10,339.98 L105.40,339.34 L105.72,338.70 L106.04,338.07 L106.36,337.43 L106.69,336.80 L107.02,336.17 L107.36,335.54 L107.71,334.92 L108.06,334.29 L108.42,333.67 L108.78,333.05 L109.15,332.43 L109.53,331.82 L109.91,331.20 L110.30,330.59 L110.70,329.98 L111.11,329.37 L111.52,328.77 L111.94,328.17 L112.37,327.58 L112.80,326.99 L113.24,326.41 L113.69,325.84 L114.15,325.28 L114.61,324.73 L115.08,324.19 L115.56,323.66 L116.05,323.14 L116.54,322.63 L117.04,322.14 L117.54,321.66 L118.06,321.20 L118.58,320.76 L119.11,320.33 L119.64,319.93 L120.18,319.54 L120.73,319.17 L121.29,318.82 L121.85,318.50 L122.42,318.19 L122.99,317.91 L123.58,317.66 L124.17,317.43 L124.77,317.23 L125.37,317.05 L125.98,316.90 L126.60,316.78 L127.22,316.68 L127.84,316.61 L128.47,316.56 L129.11,316.54 L129.75,316.54 L130.39,316.57 L131.03,316.62 L131.67,316.69 L132.31,316.78 L132.96,316.90 L133.60,317.04 L134.24,317.20 L134.88,317.38 L135.52,317.58 L136.16,317.80 L136.79,318.04 L137.42,318.30 L138.04,318.57 L138.66,318.87 L139.28,319.18 L139.89,319.51 L140.49,319.86 L141.08,320.22 L141.67,320.60 L142.26,320.99 L142.83,321.39 L143.40,321.81 L143.97,322.24 L144.53,322.68 L145.08,323.13 L145.63,323.60 L146.18,324.07 L146.72,324.54 L147.25,325.03 L147.79,325.52 L148.31,326.02 L148.84,326.53 L149.35,327.04 L149.87,327.55 L150.38,328.06 L150.89,328.58 L151.40,329.10 L151.90,329.62 L152.40,330.14 L152.90,330.66 L153.39,331.19 L153.88,331.71 L154.37,332.24 L154.85,332.77 L155.34,333.30 L155.82,333.83 L156.30,334.36 L156.77,334.90 L157.25,335.43 L157.72,335.97 L158.19,336.50 L158.66,337.04 L159.12,337.58 L159.59,338.12 L160.05,338.65 L160.51,339.19 L160.97,339.73 L161.43,340.27 L161.89,340.82 L162.34,341.36 L162.80,341.90 L163.25,342.44 L163.70,342.98 L164.15,343.52 L164.61,344.06 L165.06,344.61 L165.50,345.15 L165.95,345.69 L166.40,346.23 L166.85,346.77 L167.30,347.31 L167.75,347.85 L168.19,348.39 L168.64,348.93 L169.09,349.47 L169.53,350.00 L169.98,350.54 L170.43,351.07 L170.88,351.61 L171.33,352.14 L171.78,352.68 L172.22,353.21 L172.68,353.74 L173.13,354.27 L173.58,354.80 L174.03,355.32 L174.49,355.85 L174.94,356.37 L175.40,356.90 L175.85,357.42 L176.31,357.94 L176.77,358.45 L177.24,358.97 L177.70,359.48 L178.17,360.00 L178.63,360.51 L179.10,361.02 L179.57,361.52 L180.05,362.03 L180.52,362.53 L181.00,363.03 L181.48,363.52 L181.96,364.02 L182.44,364.51 L182.93,365.00 L183.42,365.49 L183.91,365.97 L184.41,366.46 L184.91,366.94 L185.41,367.41 L185.91,367.89 L186.42,368.36 L186.93,368.82 L187.44,369.29 L187.96,369.75 L188.48,370.21 L189.00,370.67 L189.52,371.12 L190.05,371.57 L190.58,372.02 L191.11,372.46 L191.65,372.91 L192.19,373.35 L192.73,373.78 L193.27,374.21 L193.82,374.65 L194.37,375.07 L194.92,375.50 L195.48,375.92 L196.03,376.34 L196.59,376.75 L197.15,377.17 L197.72,377.58 L198.28,377.98 L198.85,378.39 L199.43,378.79 L200.00,379.19 L200.58,379.58 L201.15,379.98 L201.73,380.36 L202.32,380.75 L202.90,381.13 L203.49,381.52 L204.08,381.89 L204.67,382.27 L205.27,382.64 L205.86,383.01 L206.46,383.38 L207.06,383.74 L207.66,384.10 L208.26,384.46 L208.87,384.81 L209.48,385.16 L210.09,385.51 L210.70,385.86 L211.31,386.20 L211.93,386.54 L212.54,386.87 L213.16,387.21 L213.78,387.54 L214.41,387.87 L215.03,388.19 L215.65,388.51 L216.28,388.83 L216.91,389.15 L217.54,389.46 L218.17,389.77 L218.80,390.08 L219.44,390.38 L220.08,390.68 L220.71,390.98 L221.35,391.28 L221.99,391.57 L222.63,391.86 L223.28,392.14 L223.92,392.43 L224.57,392.71 L225.21,392.98 L225.86,393.26 L226.51,393.53 L227.16,393.80 L227.81,394.06 L228.46,394.32 L229.12,394.58 L229.77,394.84 L230.43,395.09 L231.08,395.34 L231.74,395.59 L232.40,395.83 L233.06,396.07 L233.72,396.31 L234.38,396.55 L235.04,396.78 L235.71,397.01 L236.37,397.23 L237.03,397.46 L237.70,397.68 L238.36,397.89 L239.03,398.11 L239.70,398.32 L240.36,398.53 L241.03,398.73 L241.70,398.94 L242.37,399.14 L243.04,399.33 L243.71,399.53 L244.39,399.72 L245.06,399.91 L245.73,400.09 L246.41,400.28 L247.08,400.46 L247.76,400.63 L248.43,400.81 L249.11,400.98 L249.78,401.15 L250.46,401.32 L251.14,401.48 L251.82,401.65 L252.50,401.81 L253.18,401.96 L253.86,402.12 L254.54,402.27 L255.22,402.42 L255.90,402.57 L256.58,402.72 L257.27,402.86 L257.95,403.00 L258.63,403.14 L259.32,403.28 L260.00,403.41 L260.69,403.55 L261.37,403.68 L262.06,403.80 L262.75,403.93 L263.43,404.05 L264.12,404.18 L264.81,404.30 L265.50,404.41 L266.19,404.53 L266.88,404.64 L267.57,404.76 L268.26,404.87 L268.95,404.97 L269.64,405.08 L270.33,405.18 L271.02,405.29 L271.71,405.39 L272.40,405.49 L273.09,405.58 L273.79,405.68 L274.48,405.77 L275.17,405.87 L275.87,405.96 L276.56,406.05 L277.25,406.13 L277.95,406.22 L278.64,406.30 L279.34,406.39 L280.03,406.47 L280.73,406.55 L281.42,406.63 L282.12,406.70 L282.82,406.78 L283.51,406.85 L284.21,406.93 L284.90,407.00 L285.60,407.07 L286.30,407.14 L286.99,407.21 L287.69,407.27 L288.39,407.34 L289.09,407.40 L289.78,407.46 L290.48,407.53 L291.18,407.59 L291.88,407.65 L292.58,407.70 L293.27,407.76 L293.97,407.82 L294.67,407.87 L295.37,407.93 L296.07,407.98 L296.76,408.04 L297.46,408.09 L298.16,408.14 L298.86,408.19 L299.56,408.24 L300.26,408.29 L300.96,408.33 L301.65,408.38 L302.35,408.43 L303.05,408.47 L303.75,408.52 L304.45,408.56 L305.15,408.60 L305.84,408.65 L306.54,408.69 L307.24,408.73 L307.94,408.77 L308.64,408.81 L309.33,408.85 L310.03,408.89 L310.73,408.93 L311.43,408.97 L312.12,409.01 L312.82,409.05 L313.52,409.09 L314.21,409.12 L314.91,409.16 L315.61,409.20 L316.30,409.24 L317.00,409.27 L317.70,409.31 L318.39,409.35 L319.09,409.38 L319.78,409.42 L320.48,409.45" class="ln"/>
<path d="M70.95,410.94 L71.13,410.25 L71.32,409.58 L71.53,408.92 L71.76,408.26 L72.00,407.61 L72.26,406.97 L72.53,406.34 L72.82,405.71 L73.13,405.09 L73.44,404.48 L73.77,403.87 L74.11,403.26 L74.46,402.66 L74.82,402.07 L75.19,401.48 L75.56,400.89 L75.95,400.31 L76.33,399.73 L76.73,399.15 L77.13,398.58 L77.53,398.00 L77.94,397.43 L78.35,396.86 L78.76,396.29 L79.17,395.72 L79.58,395.15 L79.99,394.58 L80.39,394.00 L80.80,393.43 L81.20,392.85 L81.60,392.28 L81.99,391.70 L82.38,391.11 L82.76,390.53 L83.14,389.94 L83.51,389.35 L83.87,388.75 L84.24,388.16 L84.59,387.56 L84.94,386.96 L85.29,386.36 L85.63,385.75 L85.97,385.14 L86.31,384.53 L86.64,383.92 L86.96,383.31 L87.28,382.69 L87.60,382.07 L87.92,381.45 L88.23,380.83 L88.53,380.20 L88.84,379.58 L89.14,378.95 L89.44,378.32 L89.73,377.69 L90.02,377.06 L90.31,376.42 L90.59,375.79 L90.88,375.15 L91.16,374.51 L91.43,373.87 L91.71,373.23 L91.98,372.59 L92.25,371.94 L92.52,371.30 L92.79,370.65 L93.05,370.00 L93.31,369.36 L93.58,368.71 L93.83,368.06 L94.09,367.41 L94.35,366.76 L94.61,366.10 L94.86,365.45 L95.21,363.90 L95.47,363.26 L95.73,362.61 L95.99,361.97 L96.24,361.32 L96.50,360.68 L96.75,360.03 L97.00,359.39 L97.25,358.75 L97.49,358.10 L97.74,357.46 L97.98,356.81 L98.23,356.17 L98.47,355.53 L98.71,354.88 L98.95,354.24 L99.19,353.60 L99.42,352.95 L99.66,352.31 L99.89,351.67 L100.13,351.02 L100.36,350.38 L100.59,349.74 L100.83,349.09 L101.06,348.45 L101.29,347.81 L101.52,347.17 L101.75,346.52 L101.98,345.88 L102.21,345.24 L102.44,344.59 L102.67,343.95 L102.90,343.30 L103.13,342.66 L103.36,342.02 L103.59,341.37 L103.83,340.73 L104.06,340.09 L104.29,339.44 L104.52,338.80 L104.75,338.15 L104.99,337.51 L105.22,336.86 L105.46,336.22 L105.69,335.57 L105.93,334.93 L106.17,334.28 L106.41,333.64 L106.65,332.99 L106.89,332.35 L107.13,331.70 L107.37,331.05 L107.62,330.41 L107.86,329.76 L108.11,329.11 L108.36,328.47 L108.61,327.82 L108.87,327.17 L109.12,326.52 L109.38,325.87 L109.64,325.23 L109.90,324.58 L110.16,323.93 L110.43,323.28 L110.70,322.63 L110.96,321.98 L111.24,321.33 L111.51,320.68 L111.79,320.03 L112.07,319.37 L112.35,318.72 L112.64,318.07 L112.92,317.42 L113.21,316.76 L113.51,316.11 L113.80,315.46 L114.10,314.80 L114.41,314.15 L114.71,313.49 L115.02,312.84 L115.33,312.18 L115.65,311.53 L115.97,310.87 L116.29,310.21 L116.62,309.55 L116.95,308.90 L117.28,308.24 L117.62,307.58 L117.96,306.92 L118.31,306.26 L118.66,305.60 L119.01,304.95 L119.37,304.29 L119.73,303.64 L120.10,302.99 L120.47,302.35 L120.84,301.70 L121.22,301.06 L121.60,300.43 L121.99,299.79 L122.39,299.17 L122.78,298.55 L123.19,297.93 L123.59,297.32 L124.00,296.71 L124.42,296.12 L124.84,295.52 L125.27,294.94 L125.70,294.36 L126.14,293.80 L126.58,293.24 L127.03,292.69 L127.48,292.14 L127.94,291.61 L128.40,291.09 L128.87,290.58 L129.35,290.08 L129.83,289.59 L130.31,289.11 L130.80,288.64 L131.30,288.19 L131.80,287.75 L132.31,287.32 L132.83,286.90 L133.35,286.50 L133.88,286.11 L134.41,285.74 L134.95,285.38 L135.50,285.04 L136.05,284.71 L136.61,284.40 L137.18,284.10 L137.75,283.83 L138.33,283.56 L138.91,283.32 L139.50,283.09 L140.10,282.89 L140.71,282.70 L141.32,282.52 L141.93,282.37 L142.56,282.23 L143.18,282.11 L143.81,282.01 L144.45,281.93 L145.09,281.86 L145.73,281.81 L146.37,281.78 L147.02,281.76 L147.67,281.77 L148.32,281.79 L148.97,281.82 L149.62,281.88 L150.28,281.95 L150.93,282.03 L151.59,282.13 L152.24,282.25 L152.89,282.39 L153.55,282.54 L154.20,282.71 L154.84,282.89 L155.49,283.09 L156.13,283.31 L156.78,283.54 L157.42,283.78 L158.06,284.04 L158.69,284.31 L159.33,284.59 L159.96,284.88 L160.59,285.18 L161.22,285.50 L161.85,285.82 L162.47,286.15 L163.10,286.49 L163.72,286.84 L164.34,287.19 L164.96,287.55 L165.57,287.92 L166.19,288.29 L166.80,288.67 L167.42,289.05 L168.03,289.43 L168.64,289.82 L169.25,290.20 L169.86,290.59 L170.46,290.98 L171.07,291.38 L171.67,291.77 L172.27,292.16 L172.87,292.56 L173.47,292.95 L174.07,293.35 L174.67,293.74 L175.26,294.14 L175.86,294.54 L176.45,294.94 L177.04,295.34 L177.64,295.74 L178.23,296.14 L178.82,296.54 L179.41,296.94 L179.99,297.35 L180.58,297.75 L181.17,298.15 L181.75,298.56 L182.33,298.96 L182.92,299.37 L183.50,299.78 L184.08,300.18 L184.66,300.59 L185.24,301.00 L185.82,301.41 L186.40,301.81 L186.98,302.22 L187.56,302.63 L188.13,303.04 L188.71,303.45 L189.28,303.86 L189.86,304.27 L190.43,304.68 L191.01,305.09 L191.58,305.50 L192.15,305.91 L192.72,306.32 L193.30,306.73 L193.87,307.14 L194.44,307.55 L195.01,307.96 L195.58,308.37 L196.15,308.78 L196.72,309.19 L197.29,309.60 L197.86,310.00 L198.43,310.41 L199.00,310.82 L199.56,311.23 L200.13,311.64 L200.70,312.05 L201.27,312.46 L201.84,312.86 L202.40,313.27 L202.97,313.68 L203.54,314.08 L204.11,314.49 L204.68,314.89 L205.24,315.30 L205.81,315.70 L206.38,316.11 L206.95,316.51 L207.52,316.91 L208.08,317.31 L208.65,317.71 L209.22,318.11 L209.79,318.51 L210.36,318.91 L210.93,319.31 L211.50,319.71 L212.07,320.10 L212.64,320.50 L213.21,320.90 L213.78,321.29 L214.36,321.68 L214.93,322.07 L215.50,322.47 L216.07,322.86 L216.65,323.24 L217.22,323.63 L217.80,324.02 L218.37,324.41 L218.95,324.79 L219.52,325.17 L220.10,325.56 L220.68,325.94 L221.26,326.32 L221.84,326.70 L222.42,327.07 L223.00,327.45 L223.58,327.83 L224.16,328.20 L224.74,328.57 L225.33,328.94 L225.91,329.31 L226.50,329.68 L227.09,330.05 L227.67,330.41 L228.26,330.78 L228.85,331.14 L229.44,331.50 L230.03,331.86 L230.63,332.21 L231.22,332.57 L231.82,332.92 L232.41,333.27 L233.01,333.63 L233.61,333.97 L234.21,334.32 L234.81,334.67 L235.41,335.01 L236.01,335.35 L236.62,335.69 L237.22,336.03 L237.83,336.36 L238.44,336.70 L239.05,337.03 L239.66,337.36 L240.27,337.69 L240.89,338.01 L241.50,338.34 L242.12,338.66 L242.74,338.98 L243.36,339.29 L243.98,339.61 L244.60,339.92 L245.23,340.23 L245.85,340.54 L246.48,340.85 L247.11,341.16 L247.74,341.46 L248.37,341.76 L249.00,342.06 L249.63,342.36 L250.26,342.66 L250.90,342.95 L251.54,343.25 L252.17,343.54 L252.81,343.83 L253.45,344.11 L254.09,344.40 L254.73,344.68 L255.38,344.96 L256.02,345.24 L256.67,345.52 L257.31,345.80 L257.96,346.08 L258.61,346.35 L259.25,346.62 L259.90,346.89 L260.55,347.16 L261.21,347.43 L261.86,347.69 L262.51,347.96 L263.16,348.22 L263.82,348.48 L264.47,348.74 L265.13,349.00 L265.79,349.26 L266.44,349.51 L267.10,349.76 L267.76,350.02 L268.42,350.27 L269.08,350.52 L269.74,350.77 L270.40,351.01 L271.06,351.26 L271.73,351.50 L272.39,351.74 L273.05,351.99 L273.72,352.23 L274.38,352.46 L275.04,352.70 L275.71,352.94 L276.38,353.17 L277.04,353.41 L277.71,353.64 L278.37,353.87 L279.04,354.10 L279.71,354.33 L280.38,354.56 L281.04,354.79 L281.71,355.01 L282.38,355.24 L283.05,355.46 L283.72,355.68 L284.39,355.90 L285.06,356.12 L285.73,356.34 L286.40,356.56 L287.07,356.78 L287.74,357.00 L288.41,357.21 L289.08,357.43 L289.75,357.64 L290.42,357.85 L291.09,358.06 L291.75,358.27 L292.42,358.49 L293.09,358.69 L293.76,358.90 L294.43,359.11 L295.10,359.32 L295.77,359.52 L296.44,359.73 L297.11,359.93 L297.78,360.14 L298.45,360.34 L299.12,360.54 L299.78,360.74 L300.45,360.94 L301.12,361.14 L301.79,361.34 L302.45,361.54 L303.12,361.74 L303.78,361.94 L304.45,362.14 L305.12,362.33 L305.78,362.53 L306.44,362.72 L307.11,362.92 L307.77,363.11 L308.43,363.31 L309.10,363.50 L309.76,363.69 L310.42,363.89 L311.08,364.08 L311.74,364.27 L312.40,364.46 L313.06,364.65 L313.72,364.84 L314.37,365.03 L315.03,365.22 L315.69,365.41 L316.34,365.60 L317.00,365.79 L317.65,365.98 L318.30,366.17 L318.95,366.36 L319.61,366.54 L320.26,366.73" class="ln" stroke-dasharray="9.3 7.7" stroke-dashoffset="16.1"/>
<path d="M421.00,412.40 L421.73,410.19 L422.46,408.00 L423.18,405.85 L423.91,403.73 L424.64,401.72 L425.37,399.76 L425.37,399.21 L426.09,397.18 L426.82,395.19 L427.55,393.46 L428.28,391.83 L429.00,390.23 L429.73,388.65 L429.73,387.61 L430.46,385.99 L431.19,384.50 L431.92,383.04 L432.64,381.60 L433.37,380.19 L434.10,378.63 L434.10,377.14 L434.83,375.44 L435.55,373.77 L436.28,372.12 L437.01,370.51 L437.74,368.92 L438.46,367.43 L438.46,365.46 L439.19,364.19 L439.92,362.94 L440.65,361.72 L441.38,360.52 L442.10,359.34 L442.83,358.29 L442.83,355.91 L443.56,355.04 L444.29,354.18 L445.01,353.34 L445.74,352.52 L446.47,351.71 L447.20,350.93 L447.20,348.23 L447.93,347.49 L448.65,346.79 L449.38,346.11 L450.11,345.44 L450.84,344.79 L451.56,344.16 L451.56,341.16 L452.29,340.55 L453.02,339.96 L453.75,339.38 L454.47,338.82 L455.20,338.27 L455.93,337.74 L455.93,334.47 L456.66,333.79 L457.39,333.12 L458.11,332.46 L458.84,331.82 L459.57,331.20 L460.30,330.69 L460.30,327.11 L461.02,326.71 L461.75,326.32 L462.48,325.95 L463.21,325.60 L463.93,325.25 L464.66,325.10 L464.66,321.26 L465.39,321.10 L466.12,320.95 L466.85,320.81 L467.57,320.68 L468.30,320.56 L469.03,320.57 L469.03,316.54 L469.76,316.61 L470.48,316.69 L471.21,316.78 L471.94,316.88 L472.67,316.98 L473.39,317.10 L473.39,312.92 L474.12,313.01 L474.85,313.12 L475.58,313.24 L476.31,313.36 L477.03,313.49 L477.76,313.75 L477.76,309.42 L478.49,309.68 L479.22,309.94 L479.94,310.21 L480.67,310.49 L481.40,310.78 L482.13,311.07 L482.13,306.62 L482.86,306.90 L483.58,307.18 L484.31,307.47 L485.04,307.77 L485.77,308.08 L486.49,308.48 L486.49,303.91 L487.22,304.30 L487.95,304.68 L488.68,305.08 L489.40,305.48 L490.13,305.88 L490.86,306.29 L490.86,301.63 L491.59,302.03 L492.32,302.43 L493.04,302.84 L493.77,303.26 L494.50,303.69 L495.23,304.14 L495.23,299.38 L495.95,299.83 L496.68,300.27 L497.41,300.73 L498.14,301.18 L498.86,301.65 L499.59,302.11 L499.59,297.27 L500.32,297.73 L501.05,298.19 L501.78,298.66 L502.50,299.13 L503.23,299.61 L503.96,300.09 L503.96,295.16 L504.69,295.63 L505.41,296.11 L506.14,296.62 L506.87,297.16 L507.60,297.70 L508.32,298.24 L508.32,293.23 L509.05,293.76 L509.78,294.30 L510.51,294.85 L511.24,295.39 L511.96,295.95 L512.69,296.50 L512.69,291.42 L513.42,291.96 L514.15,292.52 L514.87,293.07 L515.60,293.63 L516.33,294.20 L517.06,294.77 L517.06,289.60 L517.79,290.16 L518.51,290.73 L519.24,291.36 L519.97,291.99 L520.70,292.62 L521.42,293.26 L521.42,288.03 L522.15,288.65 L522.88,289.29 L523.61,289.92 L524.33,290.56 L525.06,291.21 L525.79,291.85 L525.79,286.56 L526.52,287.20 L527.25,287.84 L527.97,288.49 L528.70,289.14 L529.43,289.80 L530.16,290.45 L530.16,285.10 L530.88,285.75 L531.61,286.43 L532.34,287.14 L533.07,287.86 L533.79,288.58 L534.52,289.30 L534.52,283.90 L535.25,284.62 L535.98,285.34 L536.71,286.06 L537.43,286.78 L538.16,287.51 L538.89,288.24 L538.89,282.79 L539.62,283.52 L540.34,284.25 L541.07,284.98 L541.80,285.71 L542.53,286.44 L543.25,287.18 L543.25,281.69 L543.98,282.42 L544.71,283.20 L545.44,283.99 L546.17,284.79 L546.89,285.59 L547.62,286.40 L547.62,280.86 L548.35,281.66 L549.08,282.46 L549.80,283.27 L550.53,284.07 L551.26,284.88 L551.99,285.68 L551.99,280.12 L552.72,280.92 L553.44,281.73 L554.17,282.54 L554.90,283.35 L555.63,284.16 L556.35,284.97 L556.35,279.38 L557.08,280.19 L557.81,281.00 L558.54,281.81 L559.26,282.63 L559.99,283.44 L560.72,284.28 L560.72,278.65 L561.45,279.52 L562.18,280.38 L562.90,281.24 L563.63,282.11 L564.36,282.97 L565.09,283.84 L565.09,278.20 L565.81,279.06 L566.54,279.93 L567.27,280.80 L568.00,281.66 L568.72,282.53 L569.45,283.40 L569.45,277.74 L570.18,278.61 L570.91,279.48 L571.64,280.35 L572.36,281.22 L573.09,282.09 L573.82,282.97 L573.82,277.28 L574.55,278.16 L575.27,279.03 L576.00,279.90 L576.73,280.78 L577.46,281.65 L578.19,282.53 L578.18,276.83 L578.91,277.70 L579.64,278.58 L580.37,279.45 L581.10,280.34 L581.82,281.25 L582.55,282.16 L582.55,276.44 L583.28,277.35 L584.01,278.26 L584.73,279.17 L585.46,280.09 L586.19,281.00 L586.92,281.91 L586.92,276.18 L587.65,277.09 L588.37,278.00 L589.10,278.92 L589.83,279.83 L590.56,280.74 L591.28,281.66 L591.28,275.92 L592.01,276.83 L592.74,277.75 L593.47,278.66 L594.19,279.58 L594.92,280.49 L595.65,281.41 L595.65,275.66 L596.38,276.57 L597.11,277.49 L597.83,278.40 L598.56,279.32 L599.29,280.24 L600.02,281.16 L600.02,275.39 L600.74,276.31 L601.47,277.24 L602.20,278.18 L602.93,279.13 L603.65,280.07 L604.38,281.02 L604.38,275.25 L605.11,276.20 L605.84,277.14 L606.57,278.09 L607.29,279.03 L608.02,279.98 L608.75,280.93 L608.75,275.15 L609.48,276.10 L610.20,277.05 L610.93,277.99 L611.66,278.94 L612.39,279.89 L613.12,280.84 L613.12,275.06 L613.84,276.01 L614.57,276.95 L615.30,277.90 L616.03,278.85 L616.75,279.80 L617.48,280.74 L617.48,274.96 L618.21,275.91 L618.94,276.86 L619.66,277.81 L620.39,278.76 L621.12,279.72 L621.85,280.68 L621.85,274.89 L622.58,275.85 L623.30,276.81 L624.03,277.77 L624.76,278.73 L625.49,279.68 L626.21,280.64 L626.21,274.86 L626.94,275.82 L627.67,276.77 L628.40,277.73 L629.12,278.69 L629.85,279.65 L630.58,280.61 L630.58,274.82 L631.31,275.78 L632.04,276.74 L632.76,277.70 L633.49,278.66 L634.22,279.62 L634.95,280.57 L634.95,274.79 L635.67,275.75 L636.40,276.70 L637.13,277.66 L637.86,278.62 L638.58,279.58 L639.31,280.54 L639.31,274.75 L640.04,275.71 L640.77,276.67 L641.50,277.63 L642.22,278.59 L642.95,279.55 L643.68,280.51 L643.68,274.72 L644.41,275.67 L645.13,276.63 L645.86,277.60 L646.59,278.56 L647.32,279.52 L648.05,280.48 L648.04,274.69 L648.77,275.65 L649.50,276.62 L650.23,277.58 L650.96,278.54 L651.68,279.50 L652.41,280.47 L652.41,274.67 L653.14,275.64 L653.87,276.60 L654.59,277.56 L655.32,278.53 L656.05,279.49 L656.78,280.45 L656.78,274.66 L657.51,275.62 L658.23,276.58 L658.96,277.55 L659.69,278.51 L660.42,279.47 L661.14,280.43 L661.14,274.64 L661.87,275.60 L662.60,276.57 L663.33,277.53 L664.05,278.49 L664.78,279.45 L665.51,280.42 L665.51,274.62 L666.24,275.59 L666.97,276.55 L667.69,277.51 L668.42,278.47 L669.15,279.44 L669.88,280.40 L669.88,274.60 L669.98,274.74 L670.08,274.88 L670.19,275.02 L670.29,275.15 L670.40,275.29 L670.50,275.43" class="ln"/>
<path d="M421.00,412.40 L422.46,407.68 L423.91,403.06 L425.37,398.70 L426.82,394.43 L428.28,391.01 L429.73,387.71 L429.73,386.13 L431.19,382.82 L432.64,379.62 L434.10,376.50 L435.55,373.73 L437.01,371.03 L438.47,368.81 L438.46,366.02 L439.92,364.61 L441.38,363.24 L442.83,361.66 L444.29,359.81 L445.74,358.01 L447.20,356.26 L447.20,352.67 L448.65,350.82 L450.11,349.41 L451.56,348.35 L453.02,347.32 L454.47,346.33 L455.93,345.37 L455.93,341.09 L457.39,340.06 L458.84,339.08 L460.30,338.11 L461.75,337.15 L463.21,336.49 L464.66,335.92 L464.66,331.40 L466.12,330.82 L467.57,330.24 L469.03,329.67 L470.48,329.11 L471.94,328.55 L473.40,328.01 L473.39,323.37 L474.85,323.24 L476.31,323.19 L477.76,323.14 L479.22,323.10 L480.67,323.06 L482.13,323.02 L482.13,318.31 L483.58,318.27 L485.04,318.23 L486.49,318.31 L487.95,318.48 L489.40,318.65 L490.86,318.82 L490.86,314.04 L492.32,314.21 L493.77,314.38 L495.23,314.55 L496.68,314.81 L498.14,315.13 L499.59,315.45 L499.59,310.62 L501.05,310.94 L502.50,311.26 L503.96,311.58 L505.41,311.90 L506.87,312.35 L508.32,312.82 L508.32,307.95 L509.78,308.42 L511.24,308.89 L512.69,309.36 L514.15,309.83 L515.60,310.31 L517.06,310.78 L517.06,305.89 L518.51,306.45 L519.97,307.03 L521.42,307.60 L522.88,308.18 L524.33,308.76 L525.79,309.34 L525.79,304.42 L527.25,305.00 L528.70,305.64 L530.16,306.29 L531.61,306.94 L533.07,307.60 L534.52,308.25 L534.52,303.31 L535.98,303.97 L537.43,304.62 L538.89,305.34 L540.34,306.09 L541.80,306.84 L543.25,307.59 L543.25,302.64 L544.71,303.39 L546.17,304.14 L547.62,304.89 L549.08,305.64 L550.53,306.42 L551.99,307.20 L551.99,302.25 L553.44,303.03 L554.90,303.82 L556.35,304.60 L557.81,305.39 L559.26,306.17 L560.72,306.96 L560.72,302.01 L562.18,302.79 L563.63,303.58 L565.09,304.37 L566.54,305.16 L568.00,305.95 L569.45,306.74 L569.45,301.79 L570.91,302.57 L572.36,303.36 L573.82,304.15 L575.27,304.94 L576.73,305.74 L578.18,306.53 L578.18,301.57 L579.64,302.36 L581.10,303.15 L582.55,303.94 L584.01,304.73 L585.46,305.52 L586.92,306.31 L586.92,301.35 L588.37,302.14 L589.83,302.93 L591.28,303.72 L592.74,304.51 L594.19,305.30 L595.65,306.09 L595.65,301.13 L597.11,301.92 L598.56,302.71 L600.02,303.50 L601.47,304.29 L602.93,305.08 L604.38,305.88 L604.38,300.91 L605.84,301.70 L607.29,302.49 L608.75,303.28 L610.20,304.07 L611.66,304.87 L613.11,305.66 L613.12,300.69 L614.57,301.48 L616.03,302.27 L617.48,303.06 L618.94,303.86 L620.39,304.65 L621.85,305.45 L621.85,300.47 L623.30,301.27 L624.76,302.08 L626.21,302.88 L627.67,303.68 L629.12,304.48 L630.58,305.28 L630.58,300.30 L632.04,301.10 L633.49,301.90 L634.95,302.70 L636.40,303.50 L637.86,304.30 L639.31,305.10 L639.31,300.12 L640.77,300.92 L642.22,301.73 L643.68,302.53 L645.13,303.33 L646.59,304.15 L648.04,304.98 L648.04,300.00 L649.50,300.82 L650.96,301.65 L652.41,302.47 L653.87,303.30 L655.32,304.12 L656.78,304.95 L656.78,299.96 L658.23,300.79 L659.69,301.61 L661.14,302.44 L662.60,303.26 L664.05,304.09 L665.51,304.91 L665.51,299.93 L666.34,300.40 L667.17,300.87 L668.00,301.34 L668.84,301.81 L669.67,302.28 L670.50,302.76" class="ln" stroke-dasharray="9.3 7.5" stroke-dashoffset="13.1"/>
<text transform="translate(183.99,14.20) scale(1,1.035)" font-size="19" fill="#262626" stroke="#262626" stroke-width="0.25">(a)</text>
<text transform="translate(539.19,13.80) scale(1,1.035)" font-size="19" fill="#262626" stroke="#262626" stroke-width="0.25">(b)</text>
<text transform="translate(184.52,250.80) scale(1,1.035)" font-size="19" fill="#262626" stroke="#262626" stroke-width="0.25">(c)</text>
<text transform="translate(533.99,251.60) scale(1,1.035)" font-size="19" fill="#262626" stroke="#262626" stroke-width="0.25">(d)</text>
<text transform="translate(147.11,225.00) scale(1,1.035)" font-size="19" fill="#262626" stroke="#262626" stroke-width="0.25">Time (days)</text>
<text transform="translate(505.26,224.80) scale(1,1.035)" font-size="19" fill="#262626" stroke="#262626" stroke-width="0.25">Time (days)</text>
<text transform="translate(149.71,461.70) scale(1,1.035)" font-size="19" fill="#262626" stroke="#262626" stroke-width="0.25">Time (days)</text>
<text transform="translate(499.71,462.70) scale(1,1.035)" font-size="19" fill="#262626" stroke="#262626" stroke-width="0.25">Time (days)</text>
<text transform="translate(-1.50,85.70) scale(1,1.035)" font-size="19" fill="#262626" stroke="#262626" stroke-width="0.25">E</text><text transform="translate(12.10,94.30) scale(1,1.035)" font-size="14" fill="#262626" stroke="#262626" stroke-width="0.25">I</text>
<text transform="translate(355.80,85.90) scale(1,1.035)" font-size="19" fill="#262626" stroke="#262626" stroke-width="0.25">E</text><text transform="translate(368.60,94.60) scale(1,1.035)" font-size="14" fill="#262626" stroke="#262626" stroke-width="0.25">T</text>
<text transform="translate(38.40,330.60) scale(1,1.035)" font-size="19" fill="#262626" stroke="#262626" stroke-width="0.25">V</text>
<text transform="translate(379.60,331.60) scale(1,1.035)" font-size="19" fill="#262626" stroke="#262626" stroke-width="0.25">Z</text>
<path d="M73.6,246.6 L81.2,253.9 M81.2,246.6 L73.6,253.9" stroke="#262626" stroke-width="1.15" fill="none"/>
<path d="M490,0 L670,0 L670,1409 L545,1409 C525,1290 430,1175 205,1160 L205,1015 C345,1020 440,1050 490,1095 Z" fill="#262626" stroke="#262626" stroke-width="30.1" transform="translate(85.60,254.60) scale(0.00830,-0.00859)"/><text transform="translate(95.05,254.60) scale(1,1.035)" font-size="17" fill="#262626" stroke="#262626" stroke-width="0.25">0</text><text transform="translate(104.40,245.80) scale(1,1.035)" font-size="12" fill="#262626" stroke="#262626" stroke-width="0.25">6</text>
<path d="M565.2,346.8 H596.8" class="ln"/>
<path d="M565.2,365.8 H575.5 M582.4,365.8 H592.6" class="ln"/>
<g fill="none" stroke="#000"><path d="M605.5,349.2 V353.4" stroke-width="1.4"/><path d="M603,353.7 H608.1" stroke-width="1"/><path d="M605.5,350.5 C605.4,347.2 604.5,344.4 602.7,344.4 C601.8,344.4 601.3,345 601.2,345.9 M605.5,350.5 C605.6,347.2 606.5,344.4 608.3,344.4 C609.2,344.4 609.7,345 609.8,345.9" stroke-width="1.2"/></g><path d="M612.5,349.3 H619.8 M612.5,351.6 H619.8" stroke="#000" stroke-width="1.1"/><text transform="translate(620.30,353.80) scale(1,1.035)" font-size="14" fill="#000" stroke="#000" stroke-width="0.25">7</text>
<g transform="translate(0,18.2)"><g fill="none" stroke="#000"><path d="M605.5,349.2 V353.4" stroke-width="1.4"/><path d="M603,353.7 H608.1" stroke-width="1"/><path d="M605.5,350.5 C605.4,347.2 604.5,344.4 602.7,344.4 C601.8,344.4 601.3,345 601.2,345.9 M605.5,350.5 C605.6,347.2 606.5,344.4 608.3,344.4 C609.2,344.4 609.7,345 609.8,345.9" stroke-width="1.2"/></g></g><path d="M612.5,367.6 H619.8 M612.5,369.9 H619.8" stroke="#000" stroke-width="1.1"/><path d="M490,0 L670,0 L670,1409 L545,1409 C525,1290 430,1175 205,1160 L205,1015 C345,1020 440,1050 490,1095 Z" fill="#000" stroke="#000" stroke-width="36.6" transform="translate(620.30,371.80) scale(0.00684,-0.00708)"/><text transform="translate(628.09,371.80) scale(1,1.035)" font-size="14" fill="#000" stroke="#000" stroke-width="0.25">4</text>
</svg>
</body></html>
